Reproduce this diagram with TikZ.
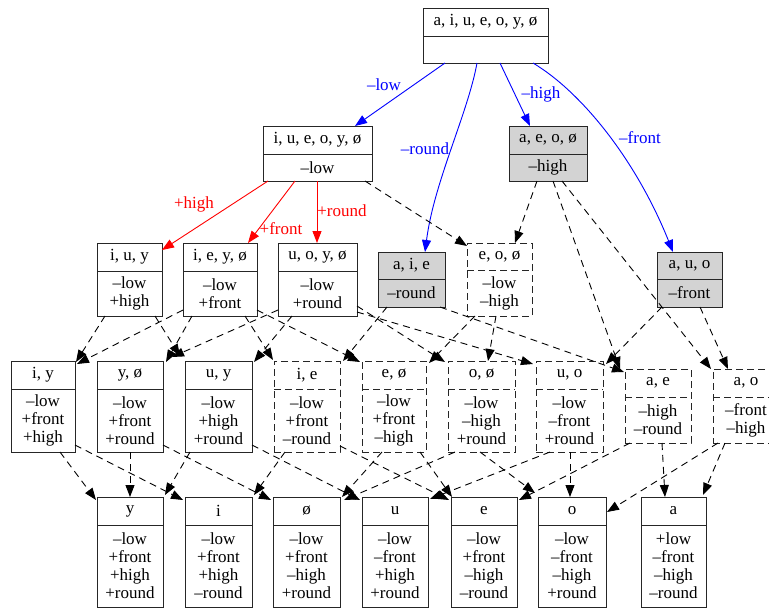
\documentclass[tikz,border=0pt]{standalone}
\usepackage{fontspec}
\setmainfont{Liberation Serif}
\usetikzlibrary{arrows.meta,calc}
\definecolor{gvgray}{RGB}{211,211,211}
\definecolor{gvblue}{RGB}{0,0,255}
\definecolor{gvred}{RGB}{255,0,0}
\tikzset{
  box/.style={draw=black!85, line width=1pt, inner sep=0pt, outer sep=0pt},
  gbox/.style={box, fill=gvgray},
  dbox/.style={box, dash pattern=on 7pt off 4pt},
  txt/.style={inner sep=0pt, align=center, font=\fontsize{17}{18}\selectfont},
  lbl/.style={inner sep=0pt, font=\fontsize{17}{18}\selectfont},
  edge/.style={-{Triangle[length=12pt,width=9pt]}, line width=0.9pt},
  dedge/.style={edge, dash pattern=on 7pt off 5pt},
  bedge/.style={edge, gvblue},
  redge/.style={edge, gvred}
}
% style, name, x1, y1, x2, y2, ydiv, title, body
\newcommand\recnode[9]{%
  \node[#1, minimum width={(#5-#3)*1pt}, minimum height={(#6-#4)*1pt}] (#2) at ({(#3+#5)/2},{(#4+#6)/2}) {};
  \draw[#1] (#3,#7) -- (#5,#7);
  \node[txt] (#2t) at ({(#3+#5)/2},{(#4+#7)/2}) {#8};
  \node[txt] (#2b) at ({(#3+#5)/2},{(#7+#6)/2}) {#9};
}
\begin{document}
\begin{tikzpicture}[x=1pt,y=-1pt]
\useasboundingbox (0,0) rectangle (769,608);
\clip (0,0) rectangle (769,608);
% level 0
\recnode{box}{T}{423}{8}{548}{63}{36}{a, i, u, e, o, y, ø}{}
% level 1
\recnode{box}{L}{263}{126}{372}{181}{154}{i, u, e, o, y, ø}{–low}
\recnode{gbox}{H}{509}{126}{587}{181}{154}{a, e, o, ø}{–high}
% level 2
\recnode{box}{IUY}{97}{243}{162}{316}{271}{i, u, y}{–low\\+high}
\recnode{box}{IEYO}{183}{243}{257}{316}{271}{i, e, y, ø}{–low\\+front}
\recnode{box}{UOYO}{278}{243}{357}{316}{271}{u, o, y, ø}{–low\\+round}
\recnode{gbox}{R}{378}{252}{445}{307}{279}{a, i, e}{–round}
\recnode{dbox}{EOO}{467}{243}{532}{316}{270}{e, o, ø}{–low\\–high}
\recnode{gbox}{F}{657}{252}{722}{307}{279}{a, u, o}{–front}
% level 3
\recnode{box}{IY}{11}{361}{75}{452}{389}{i, y}{–low\\+front\\+high}
\recnode{box}{YO}{97}{361}{163}{452}{389}{y, ø}{–low\\+front\\+round}
\recnode{box}{UY}{185}{361}{252}{452}{389}{u, y}{–low\\+high\\+round}
\recnode{dbox}{IE}{274}{361}{340}{452}{389}{i, e}{–low\\+front\\–round}
\recnode{dbox}{EO}{362}{361}{426}{452}{389}{e, ø}{–low\\+front\\–high}
\recnode{dbox}{OO}{448}{361}{515}{452}{389}{o, ø}{–low\\–high\\+round}
\recnode{dbox}{UO}{536}{361}{603}{452}{389}{u, o}{–low\\–front\\+round}
\recnode{dbox}{AE}{625}{369}{691}{443}{397}{a, e}{–high\\–round}
\recnode{dbox}{AO}{713}{369}{779}{443}{397}{a, o}{–front\\–high}
% level 4
\recnode{box}{y}{97}{497}{163}{607}{525}{y}{–low\\+front\\+high\\+round}
\recnode{box}{i}{185}{497}{252}{607}{525}{i}{–low\\+front\\+high\\–round}
\recnode{box}{oe}{273}{497}{340}{607}{525}{ø}{–low\\+front\\–high\\+round}
\recnode{box}{u}{362}{497}{428}{607}{525}{u}{–low\\–front\\+high\\+round}
\recnode{box}{e}{451}{497}{517}{607}{525}{e}{–low\\+front\\–high\\–round}
\recnode{box}{o}{538}{497}{606}{607}{525}{o}{–low\\–front\\–high\\+round}
\recnode{box}{a}{641}{497}{706}{607}{525}{a}{+low\\–front\\–high\\–round}
% blue edges
\draw[bedge] ($(T.south west)+(22,0)$) -- ($(L.north east)+(-17,0)$);
\draw[bedge] ($(T.south west)+(54,0)$) .. controls ($(T.south west)+(45,50)$) and ($(R.north west)+(56,-70)$) .. ($(R.north west)+(47,0)$);
\draw[bedge] ($(T.south west)+(77,0)$) -- ($(H.north west)+(21,0)$);
\draw[bedge] ($(T.south west)+(110,0)$) .. controls ($(T.south west)+(160,30)$) and ($(F.north west)+(-20,-90)$) .. ($(F.north west)+(16,0)$);
\node[lbl, gvblue] (lLow) at (384,85) {–low};
\node[lbl, gvblue] (lRound) at (425,149) {–round};
\node[lbl, gvblue] (lHigh) at (541,94) {–high};
\node[lbl, gvblue] (lFront) at (640,138) {–front};
% red edges
\draw[redge] ($(L.south west)+(5,0)$) -- ($(IUY.north east)+(0,7)$);
\draw[redge] ($(L.south west)+(32,0)$) -- ($(IEYO.north east)+(-9,0)$);
\draw[redge] ($(L.south west)+(54,0)$) -- ($(UOYO.north west)+(39,0)$);
\node[lbl, gvred] (lPHigh) at (194,204) {+high};
\node[lbl, gvred] (lPFront) at (281,229) {+front};
\node[lbl, gvred] (lPRound) at (342,211) {+round};
% dashed edges level 1 -> 2/3
\draw[dedge] ($(L.south east)+(-7,0)$) -- ($(EOO.north west)+(0,3)$);
\draw[dedge] ($(H.south west)+(28,0)$) -- ($(EOO.north east)+(-17,0)$);
\draw[dedge] ($(H.south west)+(44,0)$) -- ($(AE.north west)+(-5,0)$);
\draw[dedge] ($(H.south west)+(53,0)$) -- ($(AO.north west)+(-2,0)$);
\draw[dedge] ($(R.south west)+(9,0)$) -- ($(IE.north east)+(3,0)$);
\draw[dedge] ($(R.south east)+(-5,0)$) -- ($(AE.north west)+(-1,3)$);
\draw[dedge] ($(F.south west)+(5,0)$) -- ($(UO.north east)+(3,3)$);
\draw[dedge] ($(F.south west)+(43,0)$) -- ($(AO.north west)+(15,0)$);
% level 2 -> 3
\draw[dedge] ($(EOO.south west)+(8,0)$) -- ($(EO.north east)+(3,2)$);
\draw[dedge] ($(EOO.south west)+(29,0)$) -- ($(OO.north west)+(40,0)$);
\draw[dedge] ($(IUY.south west)+(8,0)$) -- ($(IY.north east)+(1,1)$);
\draw[dedge] ($(IUY.south west)+(58,0)$) -- ($(UY.north west)+(-5,-5)$);
\draw[dedge] ($(IEYO.south west)+(0,-6)$) -- ($(IY.north east)+(2,3)$);
\draw[dedge] ($(IEYO.south west)+(9,0)$) -- ($(YO.north east)+(3,1)$);
\draw[dedge] ($(IEYO.south west)+(62,0)$) -- ($(IE.north west)+(-1,-1)$);
\draw[dedge] ($(IEYO.south east)+(0,-6)$) -- ($(EO.north west)+(-2,1)$);
\draw[dedge] ($(UOYO.south west)+(0,-6)$) -- ($(YO.north east)+(9,-4)$);
\draw[dedge] ($(UOYO.south west)+(14,0)$) -- ($(UY.north east)+(2,1)$);
\draw[dedge] ($(UOYO.south east)+(0,-10)$) -- ($(OO.north west)+(-3,1)$);
\draw[dedge] ($(UOYO.south east)+(0,-4)$) -- ($(UO.north west)+(-3,3)$);
% level 3 -> 4
\draw[dedge] ($(IY.south west)+(49,0)$) -- ($(y.north west)+(-1,3)$);
\draw[dedge] ($(IY.south east)+(0,-7)$) -- ($(i.north west)+(-2,3)$);
\draw[dedge] ($(YO.south west)+(33,0)$) -- ($(y.north west)+(33,0)$);
\draw[dedge] ($(YO.south east)+(0,-7)$) -- ($(oe.north west)+(-2,3)$);
\draw[dedge] ($(UY.south west)+(5,0)$) -- ($(y.north east)+(2,-2)$);
\draw[dedge] ($(UY.south east)+(0,-7)$) -- ($(u.north west)+(-2,3)$);
\draw[dedge] ($(IE.south west)+(11,0)$) -- ($(i.north east)+(2,-2)$);
\draw[dedge] ($(IE.south east)+(0,-6)$) -- ($(e.north west)+(-2,3)$);
\draw[dedge] ($(EO.south west)+(20,0)$) -- ($(oe.north east)+(2,0)$);
\draw[dedge] ($(EO.south east)+(-6,0)$) -- ($(e.north west)+(1,0)$);
\draw[dedge] ($(OO.south west)+(7,0)$) -- ($(oe.north east)+(4,3)$);
\draw[dedge] ($(OO.south west)+(32,0)$) -- ($(o.north west)+(-3,-4)$);
\draw[dedge] ($(UO.south west)+(14,0)$) -- ($(u.north east)+(2,2)$);
\draw[dedge] ($(UO.south west)+(34,0)$) -- ($(o.north west)+(32,0)$);
\draw[dedge] ($(AE.south west)+(5,0)$) -- ($(e.north east)+(2,3)$);
\draw[dedge] ($(AE.south west)+(37,0)$) -- ($(a.north west)+(24,0)$);
\draw[dedge] ($(AO.south west)+(5,0)$) -- ($(o.north east)+(1,15)$);
\draw[dedge] ($(AO.south west)+(12,0)$) -- ($(a.north east)+(-3,-2)$);
\end{tikzpicture}
\end{document}
